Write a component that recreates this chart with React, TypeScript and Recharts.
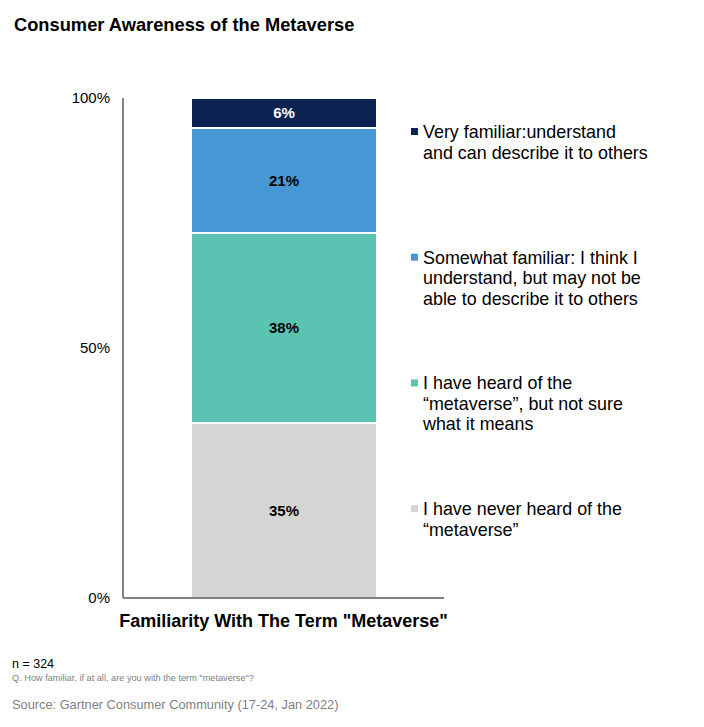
import React from "react";
import { BarChart, Bar, XAxis, YAxis, LabelList } from "recharts";

const categories = ['Familiarity With The Term "Metaverse"'];
const neverHeard = [35];
const heardNotSure = [38];
const somewhatFamiliar = [21];
const veryFamiliar = [6];
const yTicks = [0, 50, 100];

const seriesDefs = [
  { key: "never", name: "I have never heard of the\n\u201cmetaverse\u201d", color: "#d5d5d5", labelColor: "#000" },
  { key: "heard", name: "I have heard of the\n\u201cmetaverse\u201d, but not sure\nwhat it means", color: "#5bc3b2", labelColor: "#000" },
  { key: "somewhat", name: "Somewhat familiar: I think I\nunderstand, but may not be\nable to describe it to others", color: "#4598d3", labelColor: "#000" },
  { key: "very", name: "Very familiar:understand\nand can describe it to others", color: "#0c2251", labelColor: "#fff" },
];

const data = categories.map((c, i) => ({
  name: c,
  never: neverHeard[i],
  heard: heardNotSure[i],
  somewhat: somewhatFamiliar[i],
  very: veryFamiliar[i],
}));

const FONT = "'Liberation Sans', Arial, Helvetica, sans-serif";

const XTick = (props: any) => {
  const { x, y, payload } = props;
  return (
    <text x={x} y={y + 13} textAnchor="middle" fontFamily={FONT} fontSize={18} fontWeight="bold" fill="#000">
      {payload.value}
    </text>
  );
};

export default function App() {
  const legendItems = [...seriesDefs].reverse();
  return (
    <div style={{ position: "absolute", left: 0, top: 0, width: 704, height: 727, background: "#fff" }}>
      <BarChart
        width={704}
        height={727}
        data={data}
        margin={{ top: 98, right: 260, bottom: 99, left: 63 }}
        style={{ fontFamily: FONT }}
      >
        <XAxis
          dataKey="name"
          height={30}
          tickSize={0}
          tickMargin={16}
          tickLine={false}
          axisLine={{ stroke: "#7f8383", strokeWidth: 2 }}
          tick={<XTick />}
          interval={0}
        />
        <YAxis
          width={60}
          domain={[0, 100]}
          ticks={yTicks}
          tickFormatter={(v: number) => `${v}%`}
          tickSize={0}
          tickMargin={13}
          tickLine={false}
          axisLine={{ stroke: "#7f8383", strokeWidth: 2 }}
          tick={{ fontSize: 15, fill: "#000", fontFamily: FONT }}
        />
        {seriesDefs.map((s) => (
          <Bar
            key={s.key}
            dataKey={s.key}
            stackId="a"
            fill={s.color}
            stroke="#fff"
            strokeWidth={2}
            barSize={186}
            isAnimationActive={false}
          >
            <LabelList
              dataKey={s.key}
              position="center"
              formatter={(v: any) => `${v}%`}
              fill={s.labelColor}
              fontSize={15}
              fontWeight="bold"
              fontFamily={FONT}
            />
          </Bar>
        ))}
      </BarChart>
      <svg
        width={704}
        height={727}
        style={{ position: "absolute", left: 0, top: 0, pointerEvents: "none" }}
        fontFamily={FONT}
      >
        <text x={14} y={31} fontSize={18.3} fontWeight="bold" fill="#000">
          Consumer Awareness of the Metaverse
        </text>
        {legendItems.map((s, i) => {
          const base = 138 + i * 125.7;
          const lines = s.name.split("\n");
          return (
            <g key={s.key}>
              <rect x={411} y={base - 10} width={7} height={7} fill={s.color} />
              <text x={423} y={base} fontSize={17.9} fill="#000">
                {lines.map((l, j) => (
                  <tspan key={j} x={423} dy={j === 0 ? 0 : 20.5}>
                    {l}
                  </tspan>
                ))}
              </text>
            </g>
          );
        })}
        <text x={12} y={668} fontSize={12.5} fill="#000">n = 324</text>
        <text x={12} y={681} fontSize={9.2} fill="#808080">
          Q. How familiar, if at all, are you with the term "metaverse"?
        </text>
        <text x={12} y={709} fontSize={12.8} fill="#808080">
          Source: Gartner Consumer Community (17-24, Jan 2022)
        </text>
      </svg>
    </div>
  );
}
